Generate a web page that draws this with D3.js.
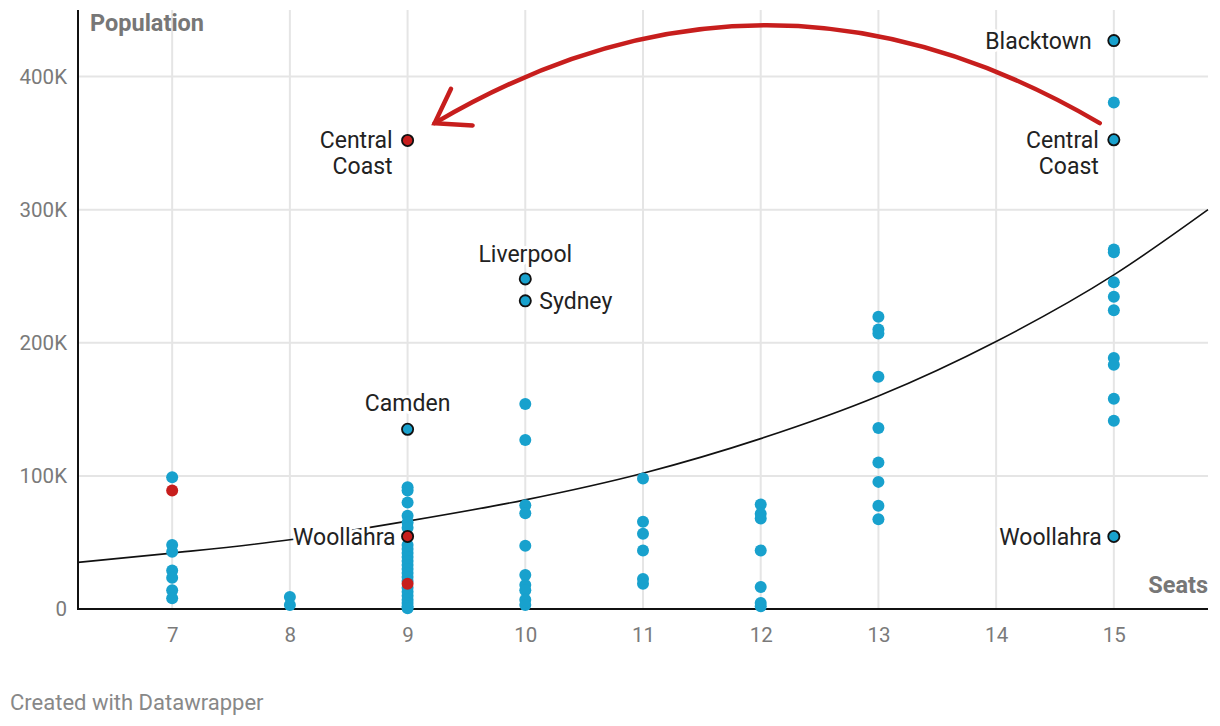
<!DOCTYPE html>
<html>
<head>
<meta charset="utf-8">
<script src="https://cdn.jsdelivr.net/npm/d3@7"></script>
<style>
  html, body { margin: 0; padding: 0; background: #fff; }
  svg { display: block; font-family: Roboto, "Noto Sans", sans-serif; }
</style>
</head>
<body>
<svg id="chart" width="1220" height="726"></svg>
<script>
// ---------- DATA ----------
const seats = [
  7,7,7,7,7,7,7,7,
  8,8,
  9,9,9,9,9,9,9,9,9,9,9,9,9,9,9,9,9,9,9,9,9,9,9,9,9,9,9,
  10,10,10,10,10,10,10,10,10,10,10,10,
  11,11,11,11,11,11,
  12,12,12,12,12,12,12,
  13,13,13,13,13,13,13,13,13,
  15,15,15,15,15,15,15,15,15,15,15,15,15
];
const population = [
  99000, 89000, 48000, 43000, 29000, 23500, 14000, 8000,
  9000, 3000,
  135000, 91500, 89000, 80000, 70000, 65000, 61000, 54500, 48000, 45000, 42000, 39000, 36000, 33000, 30000, 27000, 24000, 21000, 19000, 16000, 13000, 10000, 7000, 4500, 2000, 500, 352000,
  248000, 231500, 154000, 127000, 78000, 72000, 47500, 25500, 18000, 14000, 7000, 3000,
  98000, 65500, 56500, 44000, 22500, 19000,
  78500, 71500, 68000, 44000, 16500, 4500, 2000,
  219500, 210000, 207000, 174500, 136000, 110000, 95500, 77500, 67500,
  427000, 380500, 352500, 270000, 268000, 245500, 234500, 224500, 188500, 183500, 158000, 141500, 54500
];
// "cut" = council marked in red
const status = [
  "n","cut","n","n","n","n","n","n",
  "n","n",
  "n","n","n","n","n","n","n","cut","n","n","n","n","n","n","n","n","n","n","cut","n","n","n","n","n","n","n","cut",
  "n","n","n","n","n","n","n","n","n","n","n","n",
  "n","n","n","n","n","n",
  "n","n","n","n","n","n","n",
  "n","n","n","n","n","n","n","n","n",
  "n","n","n","n","n","n","n","n","n","n","n","n","n"
];
const names = [
  "","","","","","","","",
  "","",
  "Camden","","","","","","","Woollahra","","","","","","","","","","","","","","","","","","","Central\nCoast",
  "Liverpool","Sydney","","","","","","","","","","",
  "","","","","","",
  "","","","","","","",
  "","","","","","","","","",
  "Blacktown","","Central\nCoast","","","","","","","","","","Woollahra"
];
const xTicks = [7, 8, 9, 10, 11, 12, 13, 14, 15];
const yTicks = [0, 100000, 200000, 300000, 400000];
const yTickLabels = ["0", "100K", "200K", "300K", "400K"];
// trend line
const trendSeats = [6.2, 7, 8, 9, 10, 11, 12, 13, 14, 15, 15.8];
const trendPop   = [35000, 42000, 52000, 66000, 82000, 102000, 128000, 160000, 201000, 251000, 300000];
// arrow annotation (start, control, end) in data units
const arrowSeats = [14.88, 12.05, 9.23];
const arrowPop   = [365000, 512000, 365000];

// ---------- LAYOUT ----------
const plot = { left: 78, right: 1208, top: 10, bottom: 609 };
const BLUE = "#18a1cd", RED = "#c71e1d";

const svg = d3.select("#chart");
const x = d3.scaleLinear().domain([6.2, 15.8]).range([plot.left, plot.right]);
const y = d3.scaleLinear().domain([0, 450000]).range([plot.bottom, plot.top]);

// grid
const g = svg.append("g");
g.selectAll("line.vgrid").data(xTicks).join("line")
  .attr("x1", d => x(d)).attr("x2", d => x(d))
  .attr("y1", plot.top).attr("y2", plot.bottom)
  .attr("stroke", "#e5e5e5").attr("stroke-width", 2);
g.selectAll("line.hgrid").data(yTicks.slice(1)).join("line")
  .attr("x1", plot.left).attr("x2", plot.right)
  .attr("y1", d => y(d)).attr("y2", d => y(d))
  .attr("stroke", "#e5e5e5").attr("stroke-width", 2);

// axes via d3 axis (labels only)
const xAxis = svg.append("g").attr("transform", `translate(0,${plot.bottom})`)
  .call(d3.axisBottom(x).tickValues(xTicks).tickSize(0).tickPadding(18).tickFormat(d3.format("d")));
xAxis.select(".domain").remove();
xAxis.selectAll("text").attr("font-size", 20.5).attr("fill", "#7a7a7a").attr("font-family", "Roboto");

const yAxis = svg.append("g").attr("transform", `translate(${plot.left},0)`)
  .call(d3.axisLeft(y).tickValues(yTicks).tickSize(0).tickPadding(11).tickFormat((d, i) => yTickLabels[i]));
yAxis.select(".domain").remove();
yAxis.selectAll("text").attr("font-size", 20.5).attr("fill", "#7a7a7a").attr("font-family", "Roboto");

// axis lines
svg.append("line").attr("x1", plot.left).attr("x2", plot.left)
  .attr("y1", plot.top).attr("y2", plot.bottom + 1).attr("stroke", "#111").attr("stroke-width", 2);
svg.append("line").attr("x1", plot.left - 1).attr("x2", plot.right)
  .attr("y1", plot.bottom).attr("y2", plot.bottom).attr("stroke", "#111").attr("stroke-width", 2);

// axis titles
svg.append("text").attr("x", plot.left + 12).attr("y", 31)
  .attr("font-size", 23.5).attr("font-weight", 700).attr("fill", "#777").text("Population");
svg.append("text").attr("x", plot.right).attr("y", 593).attr("text-anchor", "end")
  .attr("font-size", 23.5).attr("font-weight", 700).attr("fill", "#777").text("Seats");

// trend line
const trend = trendSeats.map((s, i) => [s, trendPop[i]]);
svg.append("path").datum(trend)
  .attr("d", d3.line().x(d => x(d[0])).y(d => y(d[1])).curve(d3.curveMonotoneX))
  .attr("fill", "none").attr("stroke", "#111").attr("stroke-width", 1.6);

// points: plain blue first, then red, then labelled
const pts = seats.map((s, i) => ({ s, p: population[i], st: status[i], name: names[i] }));
const rank = d => (d.name ? 2 : 0) + (d.st === "cut" ? 1 : 0);
const order = pts.slice().sort((a, b) => rank(a) - rank(b));
svg.append("g").selectAll("circle").data(order).join("circle")
  .attr("cx", d => x(d.s)).attr("cy", d => y(d.p))
  .attr("r", d => d.name ? 5.6 : 6)
  .attr("fill", d => d.st === "cut" ? RED : BLUE)
  .attr("stroke", d => d.name ? "#111" : "none")
  .attr("stroke-width", 1.8);

// labels
const labelPos = {
  "Camden|9":         { anchor: "middle", dx: 0,   dy: -26 },
  "Woollahra|9":      { anchor: "end",    dx: -12, dy: 0 },
  "Central\nCoast|9": { anchor: "end",    dx: -15, dy: 0 },
  "Liverpool|10":     { anchor: "middle", dx: 0,   dy: -25 },
  "Sydney|10":        { anchor: "start",  dx: 14,  dy: 0 },
  "Blacktown|15":     { anchor: "end",    dx: -22, dy: 0 },
  "Central\nCoast|15":{ anchor: "end",    dx: -15, dy: 0 },
  "Woollahra|15":     { anchor: "end",    dx: -12, dy: 0 }
};
const labG = svg.append("g");
pts.filter(d => d.name).forEach(d => {
  const lp = labelPos[d.name + "|" + d.s];
  const lines = d.name.split("\n");
  const t = labG.append("text")
    .attr("x", x(d.s) + lp.dx).attr("y", y(d.p) + lp.dy)
    .attr("text-anchor", lp.anchor)
    .attr("font-size", 23).attr("fill", "#222")
    .attr("stroke", "#fff").attr("stroke-width", 6).attr("stroke-linejoin", "round")
    .attr("paint-order", "stroke");
  lines.forEach((ln, i) => {
    t.append("tspan").attr("x", x(d.s) + lp.dx)
      .attr("dy", i === 0 ? "0.35em" : "1.13em").text(ln);
  });
});

// arrow
const a0 = [x(arrowSeats[0]), y(arrowPop[0])];
const ac = [x(arrowSeats[1]), y(arrowPop[1])];
const a1 = [x(arrowSeats[2]), y(arrowPop[2])];
const ap = d3.path();
ap.moveTo(a0[0], a0[1]);
ap.quadraticCurveTo(ac[0], ac[1], a1[0], a1[1]);
svg.append("path").attr("d", ap.toString())
  .attr("fill", "none").attr("stroke", RED).attr("stroke-width", 4.5).attr("stroke-linecap", "round");
const ang = Math.atan2(ac[1] - a1[1], ac[0] - a1[0]);
const L = 38, spread = 34 * Math.PI / 180;
const h1 = [a1[0] + L * Math.cos(ang - spread), a1[1] + L * Math.sin(ang - spread)];
const h2 = [a1[0] + L * Math.cos(ang + spread), a1[1] + L * Math.sin(ang + spread)];
svg.append("path").attr("d", `M${h1[0]},${h1[1]}L${a1[0]},${a1[1]}L${h2[0]},${h2[1]}`)
  .attr("fill", "none").attr("stroke", RED).attr("stroke-width", 4.5)
  .attr("stroke-linecap", "round").attr("stroke-linejoin", "miter");

// footer
svg.append("text").attr("x", 10).attr("y", 710)
  .attr("font-size", 22).attr("fill", "#888").text("Created with Datawrapper");
</script>
</body>
</html>
